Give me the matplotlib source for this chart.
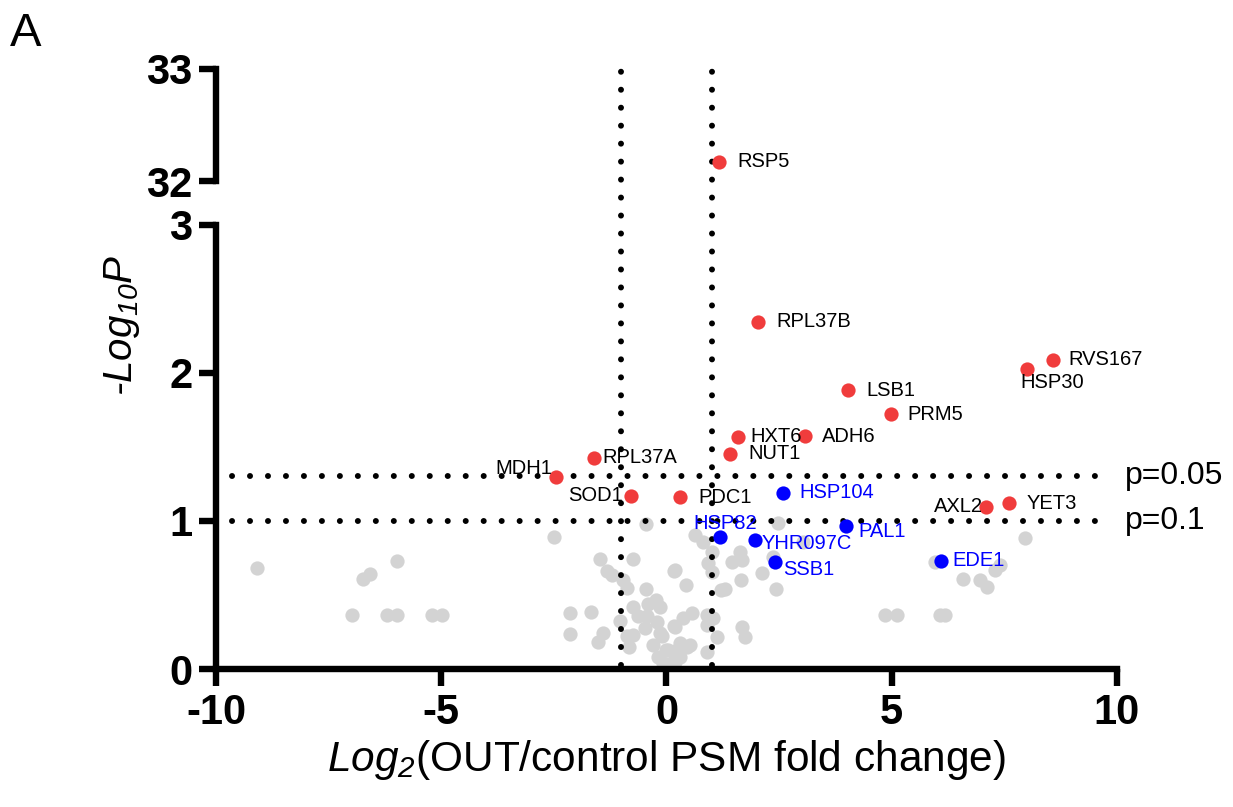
"""Volcano plot of OUT vs control PSM fold change with a broken -log10 P axis."""

import matplotlib

matplotlib.use("Agg")
import matplotlib.pyplot as plt

plt.rcParams["font.family"] = ["Liberation Sans", "DejaVu Sans"]
plt.rcParams["mathtext.fontset"] = "custom"
plt.rcParams["mathtext.rm"] = "Liberation Sans:italic"
plt.rcParams["mathtext.it"] = "Liberation Sans:italic"
plt.rcParams["mathtext.bf"] = "Liberation Sans:bold"
plt.rcParams["axes.unicode_minus"] = False

# Significant up (red) proteins: name, log2 fold change, -log10 P
UP_NAMES = ["RSP5", "RPL37B", "RVS167", "HSP30", "LSB1", "PRM5", "ADH6", "HXT6",
            "NUT1", "RPL37A", "MDH1", "SOD1", "PDC1", "AXL2", "YET3"]
UP_LOG2FC = [1.17, 2.03, 8.58, 8.00, 4.03, 4.98, 3.07, 1.59,
             1.41, -1.61, -2.45, -0.79, 0.30, 7.09, 7.60]
UP_LOGP = [32.17, 2.345, 2.09, 2.03, 1.885, 1.72, 1.574, 1.568,
           1.453, 1.426, 1.297, 1.169, 1.162, 1.095, 1.12]

# Highlighted chaperone-related proteins (blue)
BLUE_NAMES = ["HSP104", "HSP82", "YHR097C", "PAL1", "SSB1", "EDE1"]
BLUE_LOG2FC = [2.59, 1.19, 1.96, 3.98, 2.41, 6.09]
BLUE_LOGP = [1.19, 0.89, 0.87, 0.966, 0.72, 0.73]

# Everything else (grey)
GREY_LOG2FC = [
    -9.10, -6.74, -6.58, -5.99, -6.99, -6.21, -5.99, -5.21, -4.99,
    -2.49, -2.14, -2.14, -1.68, -1.51, -1.48,
    -0.46, -0.74, -1.31, -1.22, 0.17, -0.97, -0.88, -0.455, -0.74, -0.40,
    -0.23, -0.14, -0.63, -1.03, -0.44, -0.20, 0.17, -0.48, -0.14, -1.40,
    -0.88, -0.74, -0.83, -0.29, -0.18, 0.00, -0.07, 0.15, 0.23, -0.11, 0.04,
    0.45, 0.07,
    0.63, 0.82, 1.00, 1.63, 1.45, 1.67, 0.93, 1.00, 0.19, 2.13, 1.65, 0.43,
    1.22, 1.30, 0.56, 0.37, 0.89, 1.04, 0.89, 0.19, 1.67, 1.74, 1.11, 0.89,
    0.52, 0.30, 0.30, 0.19, 0.12,
    2.48, 3.04, 2.37, 2.43,
    4.85, 5.11, 6.07, 6.18,
    7.96, 5.96, 7.40, 7.29, 6.59, 6.96, 7.11,
]
GREY_LOGP = [
    0.68, 0.61, 0.64, 0.73, 0.365, 0.365, 0.365, 0.365, 0.365,
    0.89, 0.376, 0.236, 0.387, 0.184, 0.74,
    0.98, 0.74, 0.66, 0.635, 0.66, 0.60, 0.55, 0.54, 0.42, 0.437,
    0.466, 0.42, 0.358, 0.326, 0.358, 0.32, 0.29, 0.275, 0.24, 0.24,
    0.223, 0.23, 0.147, 0.162, 0.083, 0.128, 0.04, 0.05, 0.128, 0.22, 0.128,
    0.15, 0.03,
    0.905, 0.86, 0.79, 0.79, 0.725, 0.736, 0.714, 0.657, 0.669, 0.646, 0.60, 0.568,
    0.534, 0.538, 0.376, 0.343, 0.365, 0.343, 0.297, 0.286, 0.286, 0.218, 0.218, 0.117,
    0.162, 0.174, 0.083, 0.05, 0.016,
    0.985, 0.86, 0.76, 0.54,
    0.365, 0.365, 0.365, 0.365,
    0.883, 0.725, 0.70, 0.67, 0.61, 0.60, 0.556,
]

# Label placement (offset in points, horizontal alignment) per labelled point.
UP_LABEL_OFFSETS = [(13, 0, "left"), (13, 0, "left"), (11, 0, "left"), (-5, -10, "left"),
                    (13, 0, "left"), (12, 0, "left"), (12, 0, "left"), (9, 0, "left"),
                    (13, 0, "left"), (6, 0, "left"), (-3, 6, "right"), (-6, 0, "right"),
                    (13, 0, "left"), (-2, 0, "right"), (13, 0, "left")]
BLUE_LABEL_OFFSETS = [(12, 0, "left"), (-19, 10, "left"), (5, -2, "left"),
                      (9, -4, "left"), (6, -5, "left"), (8, 0, "left")]

FOLD_CHANGE_CUTOFFS = [-1, 1]
P_THRESHOLDS = [1.301, 1.0]
P_THRESHOLD_LABELS = ["p=0.05", "p=0.1"]

RED = "#F03C3C"
BLUE = "#0000FF"
GREY = "#D3D3D3"
DOTTED = (0, (0.01, 3.0))
DOT_WIDTH = 4.3
SPINE_WIDTH = 4.6
MARKER_SIZE = 105


def style_axis(axes):
    axes.patch.set_visible(False)
    axes.spines[["top", "right"]].set_visible(False)
    for spine in axes.spines.values():
        spine.set_linewidth(SPINE_WIDTH)
    axes.tick_params(width=SPINE_WIDTH, length=12, labelsize=30, pad=5)
    for label in axes.get_xticklabels() + axes.get_yticklabels():
        label.set_fontweight("bold")


def scatter_all(axes):
    axes.scatter(GREY_LOG2FC, GREY_LOGP, s=MARKER_SIZE, color=GREY, lw=0, zorder=1)
    axes.scatter(UP_LOG2FC, UP_LOGP, s=MARKER_SIZE, color=RED, lw=0, zorder=3)
    axes.scatter(BLUE_LOG2FC, BLUE_LOGP, s=MARKER_SIZE, color=BLUE, lw=0, zorder=3)


def label_points(axes, names, xs, ys, offsets, color, y_range):
    for name, x, y, (dx, dy, ha) in zip(names, xs, ys, offsets):
        if not (y_range[0] <= y <= y_range[1]):
            continue
        axes.annotate(name, (x, y), xytext=(dx, dy), textcoords="offset points",
                      ha=ha, va="center", fontsize=14.5, color=color, zorder=4,
                      annotation_clip=False)


figure = plt.figure(figsize=(12.33, 8.07), dpi=100)
lower = figure.add_axes([0.1752, 0.1710, 0.7307, 0.5502])
upper = figure.add_axes([0.1752, 0.7757, 0.7307, 0.1388])

for axes, y_range in ((lower, (0, 3)), (upper, (32, 33))):
    scatter_all(axes)
    axes.set_xlim(-10, 10)
    axes.set_ylim(*y_range)
    label_points(axes, UP_NAMES, UP_LOG2FC, UP_LOGP, UP_LABEL_OFFSETS, "black", y_range)
    label_points(axes, BLUE_NAMES, BLUE_LOG2FC, BLUE_LOGP, BLUE_LABEL_OFFSETS, BLUE, y_range)

lower.set_xticks([-10, -5, 0, 5, 10])
lower.set_yticks([0, 1, 2, 3])
upper.set_yticks([32, 33])
upper.set_xticks([])
style_axis(lower)
style_axis(upper)
upper.spines["bottom"].set_visible(False)

# vertical fold-change cutoffs run through the axis break up to the top
top_fraction = (0.7757 + 0.1388 - 0.1710) / 0.5502
for cutoff in FOLD_CHANGE_CUTOFFS:
    lower.axvline(cutoff, ymin=0.01, ymax=top_fraction - 0.005, color="black",
                  lw=DOT_WIDTH, linestyle=DOTTED, dash_capstyle="round",
                  clip_on=False, zorder=2)

for threshold, text in zip(P_THRESHOLDS, P_THRESHOLD_LABELS):
    lower.plot([-9.65, 9.9], [threshold, threshold], color="black", lw=DOT_WIDTH,
               linestyle=DOTTED, dash_capstyle="round", zorder=2)
    lower.annotate(text, (10, threshold), xytext=(6, 0), textcoords="offset points",
                   ha="left", va="center", fontsize=23, annotation_clip=False)

lower.set_xlabel("$Log_{2}$(OUT/control PSM fold change)", fontsize=30.5, labelpad=4)
figure.text(0.099, 0.597, "-$Log_{10}P$", rotation=90, fontsize=29, style="italic",
            ha="center", va="center")
figure.text(0.008, 0.985, "A", fontsize=34, ha="left", va="top")

figure.savefig("out.png", dpi=100)
